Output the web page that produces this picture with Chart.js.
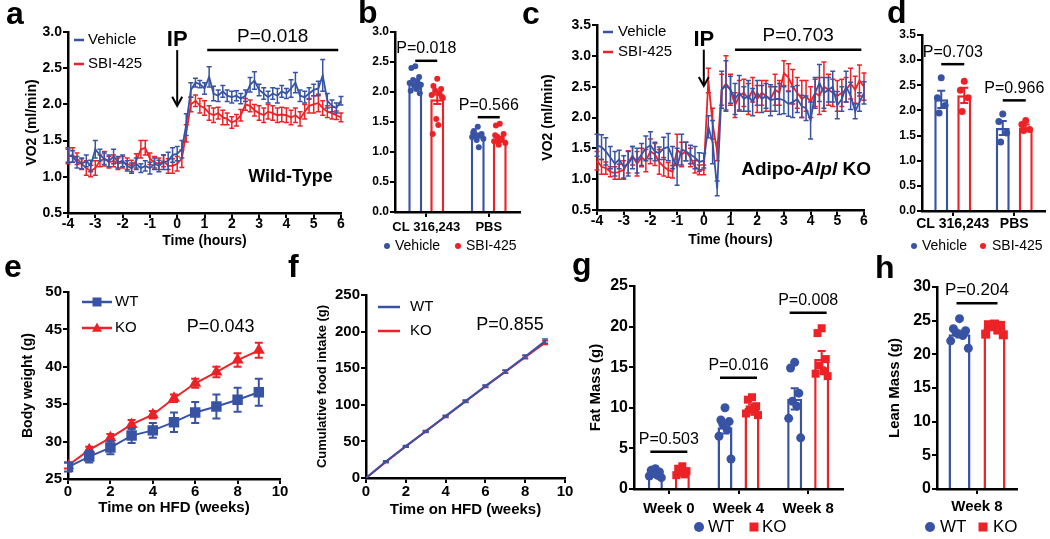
<!DOCTYPE html>
<html>
<head>
<meta charset="utf-8">
<script src="https://cdn.jsdelivr.net/npm/chart.js@4.4.1/dist/chart.umd.min.js"></script>
<style>
  html, body { margin: 0; padding: 0; background: #fff; }
  body { width: 1050px; height: 539px; position: relative; overflow: hidden; }
  canvas { position: absolute; }
</style>
</head>
<body>
<canvas id="pa" width="355" height="255" style="left:0;top:0"></canvas>
<canvas id="pb" width="168" height="255" style="left:355px;top:0"></canvas>
<canvas id="pc" width="356" height="255" style="left:520px;top:0"></canvas>
<canvas id="pd" width="172" height="255" style="left:878px;top:0"></canvas>
<canvas id="pe" width="290" height="294" style="left:0;top:245px"></canvas>
<canvas id="pf" width="290" height="294" style="left:285px;top:245px"></canvas>
<canvas id="pg" width="290" height="294" style="left:570px;top:245px"></canvas>
<canvas id="ph" width="190" height="294" style="left:860px;top:245px"></canvas>
<script>
const F = "'Liberation Sans', Arial, Helvetica, sans-serif";
const BLUE = '#3953a4';
const RED = '#ec2227';

// ---- panels a and c: VO2, 10 min bins ----
const hours = [-4.00,-3.83,-3.67,-3.50,-3.33,-3.17, -3.00,-2.83,-2.67,-2.50,-2.33,-2.17,
  -2.00,-1.83,-1.67,-1.50,-1.33,-1.17, -1.00,-0.83,-0.67,-0.50,-0.33,-0.17,
  0.00,0.17,0.33,0.50,0.67,0.83, 1.00,1.17,1.33,1.50,1.67,1.83,
  2.00,2.17,2.33,2.50,2.67,2.83, 3.00,3.17,3.33,3.50,3.67,3.83,
  4.00,4.17,4.33,4.50,4.67,4.83, 5.00,5.17,5.33,5.50,5.67,5.83, 6.00];

const vehA = [1.30,1.28,1.20,1.18,1.22,1.15, 1.38,1.30,1.25,1.22,1.28,1.20,
  1.22,1.15,1.12,1.18,1.12,1.15, 1.12,1.18,1.15,1.20,1.22,1.30,
  1.32,1.38,1.72,2.20,2.30,2.28, 2.22,2.38,2.15,2.12,2.18,2.12,
  2.10,2.12,2.08,2.12,2.27,2.33, 2.20,2.15,2.10,2.15,2.12,2.18,
  2.15,2.22,2.30,2.12,2.10,2.15, 2.20,2.22,2.40,2.05,1.98,1.95, 2.05];
const vehAErr = [0.10,0.08,0.08,0.07,0.08,0.08, 0.12,0.08,0.08,0.08,0.10,0.08,
  0.08,0.07,0.07,0.08,0.06,0.07, 0.08,0.08,0.08,0.10,0.12,0.10,
  0.10,0.12,0.15,0.10,0.06,0.05, 0.08,0.14,0.10,0.08,0.08,0.08,
  0.08,0.07,0.07,0.08,0.10,0.12, 0.08,0.08,0.08,0.08,0.10,0.08,
  0.07,0.12,0.14,0.08,0.08,0.08, 0.08,0.10,0.22,0.10,0.08,0.07, 0.06];
const sbiA = [1.28,1.30,1.25,1.18,1.12,1.08, 1.12,1.22,1.25,1.20,1.22,1.18,
  1.20,1.18,1.15,1.22,1.38,1.40, 1.25,1.20,1.18,1.22,1.15,1.15,
  1.18,1.25,1.60,2.00,2.05,1.98, 1.95,1.88,1.85,1.88,1.82,1.80,
  1.75,1.78,1.85,2.00,1.98,1.92, 1.88,1.85,1.90,1.88,1.85,1.86,
  1.85,1.82,1.85,1.80,1.90,1.98, 2.00,2.02,1.95,1.90,1.88,1.85, 1.82];
const sbiAErr = [0.10,0.10,0.08,0.08,0.10,0.08, 0.10,0.08,0.10,0.08,0.08,0.08,
  0.08,0.08,0.08,0.10,0.12,0.10, 0.08,0.08,0.08,0.08,0.10,0.10,
  0.10,0.12,0.12,0.10,0.08,0.10, 0.10,0.10,0.10,0.08,0.10,0.08,
  0.08,0.08,0.08,0.08,0.08,0.08, 0.10,0.10,0.10,0.10,0.10,0.10,
  0.10,0.10,0.10,0.10,0.10,0.10, 0.12,0.12,0.10,0.08,0.08,0.06, 0.06];

const vehC = [1.55,1.52,1.45,1.35,1.25,1.32, 1.20,1.25,1.35,1.30,1.40,1.50,
  1.55,1.45,1.42,1.50,1.52,1.35, 1.20,1.48,1.45,1.40,1.35,1.28,
  1.30,1.85,1.60,0.85,2.45,2.52, 2.45,2.30,2.40,2.30,2.35,2.25,
  2.40,2.30,2.35,2.28,2.30,2.30, 2.28,2.22,2.25,2.30,2.18,2.15,
  1.95,2.40,2.56,2.40,2.45,2.50, 2.20,2.30,2.50,2.35,2.10,2.25, 2.40];
const vehCErr = [0.18,0.20,0.22,0.18,0.20,0.15, 0.18,0.20,0.18,0.20,0.18,0.20,
  0.22,0.15,0.10,0.18,0.22,0.18, 0.30,0.25,0.15,0.15,0.18,0.15,
  0.12,0.18,0.35,0.12,0.30,0.40, 0.22,0.25,0.28,0.20,0.25,0.22,
  0.20,0.22,0.20,0.25,0.20,0.25, 0.22,0.20,0.25,0.22,0.18,0.20,
  0.30,0.25,0.30,0.25,0.20,0.25, 0.22,0.20,0.25,0.22,0.12,0.15, 0.18];
const sbiC = [1.30,1.20,1.18,1.12,1.10,1.12, 1.15,1.28,1.38,1.25,1.35,1.30,
  1.45,1.40,1.28,1.20,1.15,1.12, 1.48,1.40,1.45,1.35,1.20,1.15,
  1.15,2.60,1.90,1.45,2.45,2.55, 2.45,2.20,2.35,2.40,2.30,2.45,
  2.30,2.40,2.35,2.30,2.45,2.40, 2.72,2.65,2.50,2.40,2.30,2.35,
  2.25,2.40,2.35,2.50,2.45,2.40, 2.35,2.40,2.45,2.55,2.45,2.60, 2.50];
const sbiCErr = [0.15,0.12,0.10,0.08,0.10,0.12, 0.15,0.18,0.15,0.20,0.15,0.18,
  0.20,0.18,0.20,0.15,0.12,0.10, 0.25,0.20,0.15,0.15,0.10,0.08,
  0.08,0.20,0.25,0.15,0.25,0.45, 0.25,0.20,0.25,0.22,0.25,0.20,
  0.22,0.20,0.25,0.20,0.25,0.20, 0.20,0.22,0.28,0.25,0.30,0.25,
  0.25,0.22,0.30,0.40,0.25,0.22, 0.25,0.22,0.20,0.25,0.22,0.25, 0.22];

// ---- panels b and d: mean VO2 per mouse ----
const vo2Cats = ['CL 316,243', 'PBS'];
const bVehMean = [2.15, 1.28];
const bVehSem = [0.04, 0.03];
const bSbiMean = [1.88, 1.21];
const bSbiSem = [0.08, 0.04];
const bVehCL = [2.43, 2.40, 2.25, 2.20, 2.18, 2.15, 2.12, 2.10, 2.05, 2.02, 1.98, 2.08];
const bSbiCL = [2.22, 2.10, 2.05, 2.02, 1.98, 1.95, 1.90, 1.55, 1.45, 1.30, 1.92];
const bVehPBS = [1.42, 1.35, 1.30, 1.28, 1.27, 1.25, 1.22, 1.20, 1.08, 1.32];
const bSbiPBS = [1.47, 1.44, 1.30, 1.25, 1.22, 1.18, 1.15, 1.12, 1.20, 1.28];

const dVehMean = [2.22, 1.65];
const dVehSem = [0.17, 0.14];
const dSbiMean = [2.30, 1.66];
const dSbiSem = [0.15, 0.06];
const dVehCL = [2.65, 2.25, 2.10, 1.95];
const dSbiCL = [2.58, 2.40, 2.25, 1.98];
const dVehPBS = [1.93, 1.78, 1.55, 1.37];
const dSbiPBS = [1.80, 1.72, 1.62, 1.60];

// ---- panels e and f: HFD time course ----
const weeks = [0, 1, 2, 3, 4, 5, 6, 7, 8, 9];
const wtBW = [26.6, 28.0, 29.2, 30.8, 31.5, 32.6, 33.9, 34.7, 35.6, 36.6];
const wtBWSem = [0.6, 0.8, 0.9, 1.0, 1.0, 1.3, 1.4, 1.6, 1.6, 1.8];
const koBW = [26.8, 28.9, 30.5, 32.3, 33.6, 35.8, 37.8, 39.3, 40.9, 42.2];
const koBWSem = [0.4, 0.4, 0.5, 0.6, 0.5, 0.5, 0.6, 0.7, 0.9, 1.0];
const wtFood = [0, 22.5, 43.5, 63.5, 84.5, 105, 125.5, 145.5, 166, 187];
const wtFoodSem = [0, 1, 1, 1.2, 1.3, 1.5, 1.5, 2, 2, 3];
const koFood = [0, 22, 43, 64, 84, 104.5, 125, 145, 165, 185];
const koFoodSem = [0, 1, 1, 1, 1.2, 1.3, 1.5, 2, 2, 2.5];

// ---- panels g and h: body composition ----
const fatCats = ['Week 0', 'Week 4', 'Week 8'];
const wtFatMean = [1.8, 7.6, 11.1];
const wtFatSem = [0.15, 0.75, 1.3];
const koFatMean = [2.2, 10.0, 16.0];
const koFatSem = [0.18, 0.4, 1.0];
const wtFat0 = [2.5, 2.3, 2.1, 1.9, 1.7, 1.6, 1.4];
const wtFat4 = [10.0, 8.5, 8.3, 8.0, 7.3, 6.5, 3.7];
const wtFat8 = [15.6, 14.9, 11.8, 10.8, 10.2, 8.7, 6.3];
const koFat0 = [2.8, 2.5, 2.2, 2.0, 1.8, 1.7];
const koFat4 = [11.3, 11.0, 10.2, 9.8, 9.5, 9.3, 9.1];
const koFat8 = [19.8, 19.2, 16.0, 15.2, 14.5, 14.2, 13.9];

const leanCats = ['Week 8'];
const wtLeanMean = [23.0];
const wtLeanSem = [0.5];
const koLeanMean = [24.0];
const koLeanSem = [0.3];
const wtLean8 = [25.3, 23.8, 23.5, 23.2, 22.8, 22.0, 20.9];
const koLean8 = [24.5, 24.4, 24.3, 24.1, 23.6, 23.0, 22.9];

// ---------- helpers ----------
const GRID = { drawOnChartArea: false, drawTicks: true, tickLength: 5, color: '#000', lineWidth: 2 };
const BORDER = { display: true, color: '#000', width: 2.5 };
const JIT = [0, -0.55, 0.55, -0.3, 0.3, -0.8, 0.8, -0.15, 0.15, -0.65, 0.65, 0.4];

function font(size, weight) { return { family: F, size: size, weight: weight || 'bold' }; }

function linAxis(min, max, step, dec, size, pad, title, tsize) {
  return {
    type: 'linear', min: min, max: max,
    ticks: { stepSize: step, color: '#000', padding: pad, font: font(size), callback: v => v.toFixed(dec), maxRotation: 0 },
    grid: Object.assign({}, GRID), border: BORDER,
    title: title ? { display: true, text: title, color: '#000', padding: 0, font: font(tsize) } : { display: false }
  };
}
function catAxis(size, pad) {
  return {
    type: 'category', offset: true,
    ticks: { color: '#000', padding: pad, font: font(size), maxRotation: 0, minRotation: 0, autoSkip: false },
    grid: Object.assign({}, GRID, { offset: false }), border: BORDER
  };
}
function base(scales, g) {
  const padL = g.ytc ? g.ytc - g.ysz * 0.6 : 0;
  const xh = g.xtc ? g.xtc + g.xsz * 0.6 - g.B : g.H - g.B;
  scales.y.afterFit = s => { s.width = g.L - padL; };
  scales.x.afterFit = s => { s.height = xh; };
  return {
    responsive: false, animation: false, events: [],
    layout: { autoPadding: false, padding: { left: padL, top: g.T, right: g.W - g.R, bottom: g.H - g.B - xh } },
    plugins: { legend: { display: false }, tooltip: { enabled: false } },
    scales: scales
  };
}
function lineSet(label, color, xs, ys, err, w, extra) {
  return Object.assign({
    label: label, data: xs.map((v, i) => ({ x: v, y: ys[i] })), err: err,
    borderColor: color, backgroundColor: color, borderWidth: w, pointRadius: 0, tension: 0, cap: 2.5, errW: 1.5
  }, extra || {});
}
function barSet(label, color, means, sems, pts, cp, bp, shape, r) {
  return {
    label: label, data: means, err: sems, pts: pts, dotShape: shape, dotR: r,
    backgroundColor: '#fff', borderColor: color, borderWidth: 2.5, borderSkipped: 'bottom',
    categoryPercentage: cp, barPercentage: bp, cap: 4, errW: 2
  };
}
function marker(c, shape, x, y, r, color) {
  c.fillStyle = color;
  c.beginPath();
  if (shape === 'rect') c.rect(x - r, y - r, 2 * r, 2 * r);
  else if (shape === 'triangle') { c.moveTo(x, y - r * 1.1); c.lineTo(x + r, y + r * 0.75); c.lineTo(x - r, y + r * 0.75); c.closePath(); }
  else c.arc(x, y, r, 0, Math.PI * 2);
  c.fill();
}

// error bars and individual points, drawn with each dataset
Chart.register({
  id: 'errs',
  afterDatasetDraw(chart, args) {
    const ds = chart.data.datasets[args.index];
    const els = args.meta.data;
    const ys = chart.scales.y;
    const c = chart.ctx;
    c.save();
    if (ds.pts) {
      ds.pts.forEach((vals, i) => {
        const el = els[i];
        vals.forEach((v, j) => {
          marker(c, ds.dotShape, el.x + JIT[j % JIT.length] * el.width * 0.5, ys.getPixelForValue(v), ds.dotR, ds.borderColor);
        });
      });
    }
    if (ds.err) {
      c.strokeStyle = ds.borderColor;
      c.lineWidth = ds.errW;
      els.forEach((el, i) => {
        const raw = ds.data[i];
        const v = typeof raw === 'object' ? raw.y : raw;
        const e = ds.err[i];
        if (!e) return;
        const y1 = ys.getPixelForValue(v + e), y2 = ys.getPixelForValue(v - e), k = ds.cap;
        c.beginPath();
        c.moveTo(el.x, y1); c.lineTo(el.x, y2);
        c.moveTo(el.x - k, y1); c.lineTo(el.x + k, y1);
        c.moveTo(el.x - k, y2); c.lineTo(el.x + k, y2);
        c.stroke();
      });
    }
    c.restore();
  }
});

function T(c, s, x, y, size, weight, align, baseLine, style) {
  c.font = (style || 'normal') + ' ' + (weight || 'normal') + ' ' + size + 'px ' + F;
  c.fillStyle = '#000';
  c.textAlign = align || 'center';
  c.textBaseline = baseLine || 'middle';
  c.fillText(s, x, y);
}
function L(c, x1, y1, x2, y2, color, w) {
  c.strokeStyle = color || '#000';
  c.lineWidth = w || 2;
  c.beginPath(); c.moveTo(x1, y1); c.lineTo(x2, y2); c.stroke();
}
function sig(c, x1, x2, y, label, size) {
  L(c, x1, y, x2, y, '#000', 2.5);
  T(c, label, (x1 + x2) / 2, y - 4, size, 'normal', 'center', 'bottom');
}
function letter(c, s, x, y) { T(c, s, x, y, 32, 'bold', 'left', 'alphabetic'); }
function arrow(c, x, y1, y2) {
  L(c, x, y1, x, y2 - 1, '#000', 2);
  c.beginPath(); c.moveTo(x - 5, y2 - 9); c.lineTo(x, y2); c.lineTo(x + 5, y2 - 9); c.stroke();
}
function legLine(c, x1, x2, y, color, label, tx, size, shape, r) {
  L(c, x1, y, x2, y, color, 2.5);
  if (shape) marker(c, shape, (x1 + x2) / 2, y, r, color);
  T(c, label, tx, y, size, 'normal', 'left');
}
function legDot(c, shape, x, y, r, color, label, tx, size) {
  marker(c, shape, x, y, r, color);
  T(c, label, tx, y, size, 'normal', 'left');
}
function deco(fn) {
  return { id: 'deco', afterDraw(chart) { const c = chart.ctx; c.save(); fn(c, chart, chart.scales.x, chart.scales.y); c.restore(); } };
}

// ---------- a ----------
new Chart(document.getElementById('pa'), {
  type: 'line',
  data: { datasets: [
    lineSet('Vehicle', BLUE, hours, vehA, vehAErr, 1.8),
    lineSet('SBI-425', RED, hours, sbiA, sbiAErr, 1.8)
  ] },
  options: base({ x: linAxis(-4, 6, 1, 0, 14, -2, 'Time (hours)', 14), y: linAxis(0.5, 3.0, 0.5, 1, 14, 1, 'VO2 (ml/min)', 14) },
    { W: 355, H: 255, L: 68, R: 341, T: 32, B: 213, ytc: 32, ysz: 14, xtc: 241, xsz: 14 }),
  plugins: [deco((c, ch, x, y) => {
    letter(c, 'a', 6, 24);
    legLine(c, 74, 84, 40, BLUE, 'Vehicle', 88, 15);
    legLine(c, 74, 84, 64, RED, 'SBI-425', 88, 15);
    const x0 = x.getPixelForValue(0);
    T(c, 'IP', x0, y.getPixelForValue(2.89), 22, 'bold');
    arrow(c, x0, y.getPixelForValue(2.75), y.getPixelForValue(1.98));
    sig(c, x.getPixelForValue(1.1), x.getPixelForValue(5.9), y.getPixelForValue(2.75), 'P=0.018', 19);
    T(c, 'Wild-Type', x.getPixelForValue(4.15), y.getPixelForValue(1.0), 18, 'bold');
  })]
});

// ---------- b ----------
new Chart(document.getElementById('pb'), {
  type: 'bar',
  data: { labels: vo2Cats, datasets: [
    barSet('Vehicle', BLUE, bVehMean, bVehSem, [bVehCL, bVehPBS], 0.704, 0.636, 'circle', 3),
    barSet('SBI-425', RED, bSbiMean, bSbiSem, [bSbiCL, bSbiPBS], 0.704, 0.636, 'circle', 3)
  ] },
  options: base({ x: catAxis(13, 3), y: linAxis(0, 3, 0.5, 1, 12, 1) },
    { W: 168, H: 255, L: 40, R: 165, T: 32, B: 212 }),
  plugins: [deco((c, ch, x, y) => {
    letter(c, 'b', 3, 23);
    const m0 = ch.getDatasetMeta(0).data, m1 = ch.getDatasetMeta(1).data;
    sig(c, m0[0].x, m1[0].x, y.getPixelForValue(2.52), 'P=0.018', 16);
    sig(c, m0[1].x, m1[1].x, y.getPixelForValue(1.58), 'P=0.566', 16);
    legDot(c, 'circle', 32, 246, 3, BLUE, 'Vehicle', 40, 14);
    legDot(c, 'circle', 103, 246, 3, RED, 'SBI-425', 111, 14);
  })]
});

// ---------- c ----------
new Chart(document.getElementById('pc'), {
  type: 'line',
  data: { datasets: [
    lineSet('Vehicle', BLUE, hours, vehC, vehCErr, 1.8),
    lineSet('SBI-425', RED, hours, sbiC, sbiCErr, 1.8)
  ] },
  options: base({ x: linAxis(-4, 6, 1, 0, 14, -2, 'Time (hours)', 14), y: linAxis(0.5, 3.5, 0.5, 1, 14, 1, 'VO2 (ml/min)', 14) },
    { W: 356, H: 255, L: 77, R: 344, T: 25, B: 210, ytc: 28, ysz: 14, xtc: 240, xsz: 14 }),
  plugins: [deco((c, ch, x, y) => {
    letter(c, 'c', 2, 24);
    legLine(c, 83, 93, 32, BLUE, 'Vehicle', 98, 15);
    legLine(c, 83, 93, 52, RED, 'SBI-425', 98, 15);
    const x0 = x.getPixelForValue(0);
    T(c, 'IP', x0, y.getPixelForValue(3.26), 22, 'bold');
    arrow(c, x0, y.getPixelForValue(3.1), y.getPixelForValue(2.51));
    sig(c, x.getPixelForValue(1.17), x.getPixelForValue(5.9), y.getPixelForValue(3.1), 'P=0.703', 19);
    // Adipo-Alpl KO, with the gene name in italics
    const parts = [['Adipo-', 'normal'], ['Alpl', 'italic'], [' KO', 'normal']];
    let w = 0;
    parts.forEach(p => { c.font = p[1] + ' bold 19px ' + F; w += c.measureText(p[0]).width; });
    let px = x.getPixelForValue(3.83) - w / 2;
    const py = y.getPixelForValue(1.15);
    parts.forEach(p => {
      T(c, p[0], px, py, 19, 'bold', 'left', 'middle', p[1]);
      px += c.measureText(p[0]).width;
    });
  })]
});

// ---------- d ----------
new Chart(document.getElementById('pd'), {
  type: 'bar',
  data: { labels: vo2Cats, datasets: [
    barSet('Vehicle', BLUE, dVehMean, dVehSem, [dVehCL, dVehPBS], 0.748, 0.609, 'circle', 3.5),
    barSet('SBI-425', RED, dSbiMean, dSbiSem, [dSbiCL, dSbiPBS], 0.748, 0.609, 'circle', 3.5)
  ] },
  options: base({ x: catAxis(14, 0), y: linAxis(0, 3.5, 0.5, 1, 12, 1) },
    { W: 172, H: 255, L: 44, R: 167, T: 35, B: 211 }),
  plugins: [deco((c, ch, x, y) => {
    letter(c, 'd', 9, 23);
    const m0 = ch.getDatasetMeta(0).data, m1 = ch.getDatasetMeta(1).data;
    sig(c, m0[0].x, m1[0].x, y.getPixelForValue(2.92), 'P=0.703', 16);
    sig(c, m0[1].x, m1[1].x, y.getPixelForValue(2.2), 'P=0.966', 16);
    legDot(c, 'circle', 36, 246, 3, BLUE, 'Vehicle', 44, 14);
    legDot(c, 'circle', 105, 246, 3, RED, 'SBI-425', 114, 14);
  })]
});

// ---------- e ----------
new Chart(document.getElementById('pe'), {
  type: 'line',
  data: { datasets: [
    lineSet('WT', BLUE, weeks, wtBW, wtBWSem, 2, { pointStyle: 'rect', pointRadius: 6, cap: 4, errW: 2 }),
    lineSet('KO', RED, weeks, koBW, koBWSem, 2, { pointStyle: 'triangle', pointRadius: 5, cap: 4, errW: 2 })
  ] },
  options: base({ x: linAxis(0, 10, 2, 0, 15, -1, 'Time on HFD (weeks)', 15), y: linAxis(25, 50, 5, 0, 15, 1, 'Body weight (g)', 14) },
    { W: 290, H: 294, L: 68, R: 280, T: 47, B: 234, ytc: 28, ysz: 14, xtc: 263, xsz: 15 }),
  plugins: [deco((c, ch, x, y) => {
    letter(c, 'e', 4, 32);
    legLine(c, 82, 112, 57, BLUE, 'WT', 115, 15, 'rect', 4.5);
    legLine(c, 82, 112, 83, RED, 'KO', 115, 15, 'triangle', 5);
    T(c, 'P=0.043', x.getPixelForValue(7.2), y.getPixelForValue(45.3), 18, 'normal');
  })]
});

// ---------- f ----------
new Chart(document.getElementById('pf'), {
  type: 'line',
  data: { datasets: [
    lineSet('WT', BLUE, weeks, wtFood, wtFoodSem, 2, { cap: 3 }),
    lineSet('KO', RED, weeks, koFood, koFoodSem, 2, { cap: 3 })
  ] },
  options: base({ x: linAxis(0, 10, 2, 0, 15, 0, 'Time on HFD (weeks)', 15), y: linAxis(0, 250, 50, 0, 15, 1, 'Cumulative food intake (g)', 13) },
    { W: 290, H: 294, L: 81, R: 280, T: 50, B: 233, ytc: 37, ysz: 13, xtc: 265, xsz: 15 }),
  plugins: [deco((c, ch, x, y) => {
    letter(c, 'f', 3, 32);
    legLine(c, 93, 115, 62, BLUE, 'WT', 125, 15);
    legLine(c, 93, 115, 86, RED, 'KO', 125, 15);
    T(c, 'P=0.855', x.getPixelForValue(7.24), y.getPixelForValue(209), 18, 'normal');
  })]
});

// ---------- g ----------
new Chart(document.getElementById('pg'), {
  type: 'bar',
  data: { labels: fatCats, datasets: [
    barSet('WT', BLUE, wtFatMean, wtFatSem, [wtFat0, wtFat4, wtFat8], 0.775, 0.556, 'circle', 4.5),
    barSet('KO', RED, koFatMean, koFatSem, [koFat0, koFat4, koFat8], 0.775, 0.556, 'rect', 4)
  ] },
  options: base({ x: catAxis(15, 6), y: linAxis(0, 25, 5, 0, 16, 1, 'Fat Mass (g)', 15) },
    { W: 290, H: 294, L: 64, R: 273, T: 41, B: 244, ytc: 26, ysz: 15 }),
  plugins: [deco((c, ch, x, y) => {
    letter(c, 'g', 2, 30);
    const m0 = ch.getDatasetMeta(0).data, m1 = ch.getDatasetMeta(1).data;
    sig(c, m0[0].x - 5, m1[0].x + 5, y.getPixelForValue(4.6), 'P=0.503', 16);
    sig(c, m0[1].x - 5, m1[1].x + 5, y.getPixelForValue(13.7), 'P=0.016', 16);
    sig(c, m0[2].x - 5, m1[2].x + 5, y.getPixelForValue(21.7), 'P=0.008', 16);
    legDot(c, 'circle', 129, 282, 5, BLUE, 'WT', 138, 17);
    legDot(c, 'rect', 184, 282, 4.5, RED, 'KO', 192, 17);
  })]
});

// ---------- h ----------
new Chart(document.getElementById('ph'), {
  type: 'bar',
  data: { labels: leanCats, datasets: [
    barSet('WT', BLUE, wtLeanMean, wtLeanSem, [wtLean8], 0.875, 0.63, 'circle', 4.5),
    barSet('KO', RED, koLeanMean, koLeanSem, [koLean8], 0.875, 0.63, 'rect', 4.5)
  ] },
  options: base({ x: catAxis(15, 4), y: linAxis(0, 30, 5, 0, 16, 1, 'Lean Mass (g)', 15) },
    { W: 190, H: 294, L: 77, R: 157, T: 42, B: 244, ytc: 35, ysz: 15 }),
  plugins: [deco((c, ch, x, y) => {
    letter(c, 'h', 15, 33);
    const m0 = ch.getDatasetMeta(0).data, m1 = ch.getDatasetMeta(1).data;
    sig(c, m0[0].x - 3, m1[0].x + 3, y.getPixelForValue(27.6), 'P=0.204', 17);
    legDot(c, 'circle', 70, 282, 5, BLUE, 'WT', 80, 17);
    legDot(c, 'rect', 123, 282, 4.5, RED, 'KO', 133, 17);
  })]
});
</script>
</body>
</html>
